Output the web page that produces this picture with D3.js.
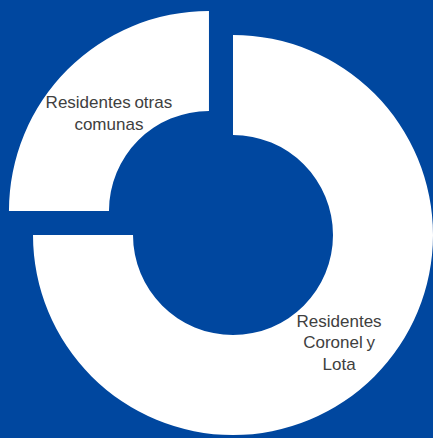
<!DOCTYPE html>
<html>
<head>
<meta charset="utf-8">
<script src="https://cdn.jsdelivr.net/npm/d3@7"></script>
<style>
  html, body { margin: 0; padding: 0; background: #00479f; }
  svg { display: block; }
</style>
</head>
<body>
<svg id="chart" width="433" height="438"></svg>
<script>
// datos del gráfico
const categories = ["Residentes Coronel y Lota", "Residentes otras comunas"];
const values = [75, 25];
const labelLines = [["Residentes", "Coronel y", "Lota"], ["Residentes otras", "comunas"]];
const exploded = [false, true];

const width = 433, height = 438;
const cx = 233, cy = 235;
const outerR = 200, innerR = 100;
const explodeDist = 34;

const svg = d3.select("#chart");

svg.append("rect")
  .attr("width", width)
  .attr("height", height)
  .attr("fill", "#00479f");

const data = categories.map((c, i) => ({ name: c, value: values[i], lines: labelLines[i], exploded: exploded[i] }));

const pie = d3.pie().sort(null).value(d => d.value);
const arc = d3.arc().innerRadius(innerR).outerRadius(outerR);

const g = svg.append("g").attr("transform", `translate(${cx},${cy})`);

const slices = g.selectAll("g.slice")
  .data(pie(data))
  .enter()
  .append("g")
  .attr("class", "slice")
  .attr("transform", d => {
    if (!d.data.exploded) return null;
    const a = (d.startAngle + d.endAngle) / 2;
    return `translate(${Math.sin(a) * explodeDist},${-Math.cos(a) * explodeDist})`;
  });

slices.append("path")
  .attr("d", arc)
  .attr("fill", "#ffffff");

// etiquetas en el centroide (la del sector separado va un poco más adentro)
const lineH = 21.5;
slices.append("text")
  .attr("transform", d => {
    const [x, y] = arc.centroid(d);
    return d.data.exploded ? `translate(${x + 6},${y + 8})` : `translate(${x},${y + 1})`;
  })
  .attr("text-anchor", "middle")
  .style("font-family", "'Liberation Sans', Arial, sans-serif")
  .style("font-size", "17px")
  .style("word-spacing", "-1px")
  .attr("fill", "#404040")
  .each(function(d) {
    const n = d.data.lines.length;
    d3.select(this).selectAll("tspan")
      .data(d.data.lines)
      .enter()
      .append("tspan")
      .attr("x", 0)
      .attr("y", (l, i) => (i - (n - 1) / 2) * lineH + 6)
      .text(l => l);
  });
</script>
</body>
</html>
